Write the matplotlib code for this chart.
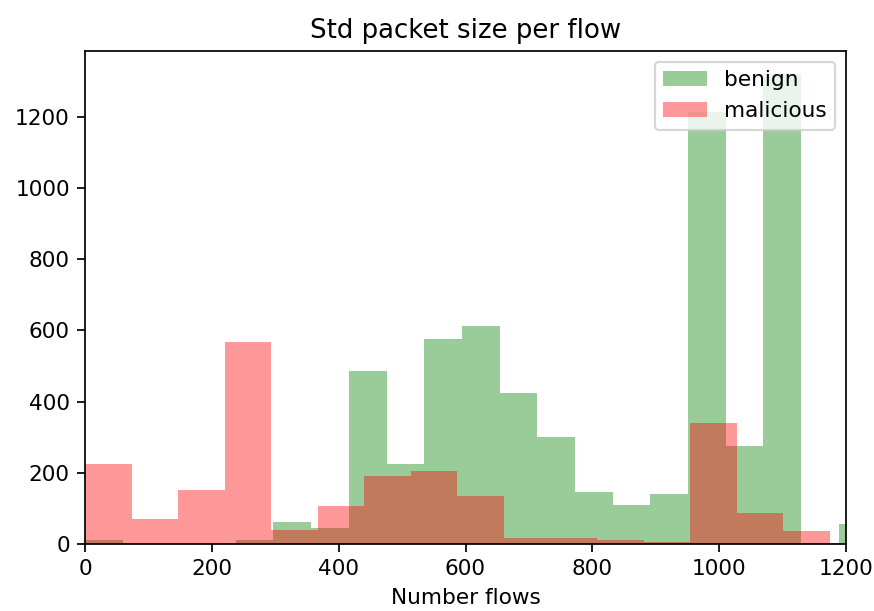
import numpy as np
import matplotlib
matplotlib.use("Agg")
import matplotlib.pyplot as plt

# Histogram bin counts
benign_counts = [12, 0, 0, 0, 12, 63, 46, 487, 224, 576, 612, 423, 301, 147,
                 110, 141, 1215, 276, 1320, 4, 57]
malicious_counts = [224, 70, 152, 567, 38, 108, 192, 204, 135, 18, 18, 11, 6,
                    339, 88, 37, 0]
data_max = 1248
benign_edges = np.linspace(0, data_max, len(benign_counts) + 1)
malicious_edges = np.linspace(0, data_max, len(malicious_counts) + 1)

title = "Std packet size per flow"
xlabel = "Number flows"

DPI = 156
fig = plt.figure(figsize=(874 / DPI, 611 / DPI), dpi=DPI)
ax = fig.add_axes([85 / 874, 1 - 544 / 611, (846 - 85) / 874, (544 - 50.7) / 611])

b_centers = (benign_edges[:-1] + benign_edges[1:]) / 2
m_centers = (malicious_edges[:-1] + malicious_edges[1:]) / 2
ax.hist(b_centers, bins=benign_edges, weights=benign_counts, color='g', alpha=0.4, label='benign')
ax.hist(m_centers, bins=malicious_edges, weights=malicious_counts, color='r', alpha=0.4, label='malicious')

ax.set_xlim(0, 1200)
ax.set_title(title, fontsize=12)
ax.set_xlabel(xlabel)
ax.legend(loc='upper right')

fig.savefig("out.png", dpi=DPI)
